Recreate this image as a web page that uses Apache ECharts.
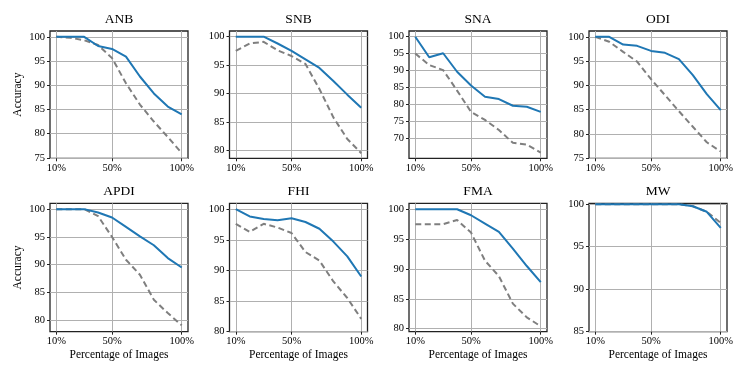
<!DOCTYPE html>
<html>
<head>
<meta charset="utf-8">
<script src="https://cdn.jsdelivr.net/npm/echarts@6/dist/echarts.min.js"></script>
<style>
  html, body { margin: 0; padding: 0; background: #fff; }
  #chart { width: 747px; height: 374px; }
</style>
</head>
<body>
<div id="chart"></div>
<script>
// x positions (percentage of images)
const percentages = [10, 20, 30, 40, 50, 60, 70, 80, 90, 100];
const xTicks = [10, 50, 100];

const panelNames = ['ANB', 'SNB', 'SNA', 'ODI', 'APDI', 'FHI', 'FMA', 'MW'];

// solid (blue) and dashed (gray) curves, one pair per panel
const anbSolid = [100, 100, 100, 98.1, 97.5, 95.9, 91.8, 88.3, 85.6, 84.0];
const anbDashed = [100, 99.8, 99.3, 98.3, 95.6, 90.4, 86.0, 82.5, 79.3, 76.0];
const snbSolid = [100, 100, 100, 98.8, 97.5, 96.0, 94.5, 92.2, 89.8, 87.5];
const snbDashed = [97.5, 98.8, 99.1, 97.6, 96.6, 95.2, 90.8, 85.8, 82.0, 79.5];
const snaSolid = [100, 93.9, 95.1, 89.6, 85.5, 82.2, 81.5, 79.5, 79.2, 77.7];
const snaDashed = [95.0, 91.6, 90.1, 84.0, 77.7, 75.3, 72.3, 68.5, 68.0, 65.6];
const odiSolid = [100, 100, 98.4, 98.15, 97.1, 96.7, 95.4, 92.1, 88.2, 84.9];
const odiDashed = [100, 99.0, 96.9, 94.9, 91.3, 88.0, 84.7, 81.5, 78.3, 76.4];
const apdiSolid = [100, 100, 100, 99.4, 98.5, 96.8, 95.1, 93.5, 91.2, 89.5];
const apdiDashed = [100, 100, 100, 98.75, 95.0, 90.9, 88.2, 83.7, 81.3, 79.1];
const fhiSolid = [100, 98.8, 98.4, 98.2, 98.5, 97.9, 96.8, 94.7, 92.3, 89.0];
const fhiDashed = [97.6, 96.3, 97.6, 97.0, 96.1, 93.0, 91.6, 88.2, 85.5, 82.1];
const fmaSolid = [100, 100, 100, 100, 99.0, 97.6, 96.2, 93.4, 90.5, 87.8];
const fmaDashed = [97.5, 97.5, 97.5, 98.2, 96.1, 91.4, 88.8, 84.2, 81.9, 80.4];
const mwSolid = [100, 100, 100, 100, 100, 100, 100, 99.75, 99.1, 97.2];
const mwDashed = [100, 100, 100, 100, 100, 100, 100, 99.75, 99.1, 97.8];

// y tick labels per panel
const anbTicks = [75, 80, 85, 90, 95, 100];
const snbTicks = [80, 85, 90, 95, 100];
const snaTicks = [70, 75, 80, 85, 90, 95, 100];
const odiTicks = [75, 80, 85, 90, 95, 100];
const apdiTicks = [80, 85, 90, 95, 100];
const fhiTicks = [80, 85, 90, 95, 100];
const fmaTicks = [80, 85, 90, 95, 100];
const mwTicks = [85, 90, 95, 100];

const solidSeries = [anbSolid, snbSolid, snaSolid, odiSolid, apdiSolid, fhiSolid, fmaSolid, mwSolid];
const dashedSeries = [anbDashed, snbDashed, snaDashed, odiDashed, apdiDashed, fhiDashed, fmaDashed, mwDashed];
const yTicks = [anbTicks, snbTicks, snaTicks, odiTicks, apdiTicks, fhiTicks, fmaTicks, mwTicks];
const yRanges = [
  [74.9, 101.2], [78.6, 101.0], [63.9, 101.7], [75, 101.2],
  [77.95, 101.05], [80, 100.95], [79.5, 101.0], [85, 100.1],
];

const font = 'Liberation Serif';
const colLeft = [50, 229.5, 409, 589];
const rowTop = [31, 203.3];
const plotW = 138;
const plotH = [127.3, 128.4];

const chart = echarts.init(document.getElementById('chart'));

const grids = [];
const xAxes = [];
const yAxes = [];
const titles = [];
const series = [];

panelNames.forEach((name, i) => {
  const row = Math.floor(i / 4);
  const col = i % 4;
  grids.push({
    left: colLeft[col],
    top: rowTop[row],
    width: plotW,
    height: plotH[row],
    show: true,
    borderColor: '#222',
    borderWidth: 1.3,
    backgroundColor: 'transparent',
  });
  titles.push({
    text: name,
    left: colLeft[col] + plotW / 2,
    top: rowTop[row] - 19,
    textAlign: 'center',
    padding: 0,
    textStyle: {
      fontFamily: font, fontSize: 13.5, fontWeight: 'normal', color: '#000',
    },
  });
  xAxes.push({
    type: 'value',
    gridIndex: i,
    min: 5.5,
    max: 104.5,
    name: row === 1 ? 'Percentage of Images' : '',
    nameLocation: 'middle',
    nameGap: 17,
    nameTextStyle: { fontFamily: font, fontSize: 11.5, color: '#000' },
    axisLine: { show: false },
    axisTick: {
      show: true, length: 3, customValues: xTicks, lineStyle: { color: '#222' },
    },
    axisLabel: {
      customValues: xTicks,
      formatter: '{value}%',
      margin: 4,
      fontFamily: font,
      fontSize: 10.5,
      color: '#000',
    },
    splitLine: { show: true, lineStyle: { color: '#b0b0b0', width: 1 } },
  });
  yAxes.push({
    type: 'value',
    gridIndex: i,
    min: yRanges[i][0],
    max: yRanges[i][1],
    name: col === 0 ? 'Accuracy' : '',
    nameLocation: 'middle',
    nameGap: 26,
    nameTextStyle: { fontFamily: font, fontSize: 11.5, color: '#000' },
    axisLine: { show: false },
    axisTick: {
      show: true, length: 3, customValues: yTicks[i], lineStyle: { color: '#222' },
    },
    axisLabel: {
      customValues: yTicks[i],
      margin: 5,
      fontFamily: font,
      fontSize: 10.5,
      color: '#000',
    },
    splitLine: { show: true, lineStyle: { color: '#b0b0b0', width: 1 } },
  });
  series.push({
    type: 'line',
    xAxisIndex: i,
    yAxisIndex: i,
    data: percentages.map((p, k) => [p, dashedSeries[i][k]]),
    showSymbol: false,
    lineStyle: { color: '#7f7f7f', width: 2, type: [6, 3.5] },
    animation: false,
  });
  series.push({
    type: 'line',
    xAxisIndex: i,
    yAxisIndex: i,
    data: percentages.map((p, k) => [p, solidSeries[i][k]]),
    showSymbol: false,
    lineStyle: { color: '#1f77b4', width: 2 },
    animation: false,
  });
});

chart.setOption({
  backgroundColor: '#fff',
  animation: false,
  title: titles,
  grid: grids,
  xAxis: xAxes,
  yAxis: yAxes,
  series,
});
</script>
</body>
</html>
